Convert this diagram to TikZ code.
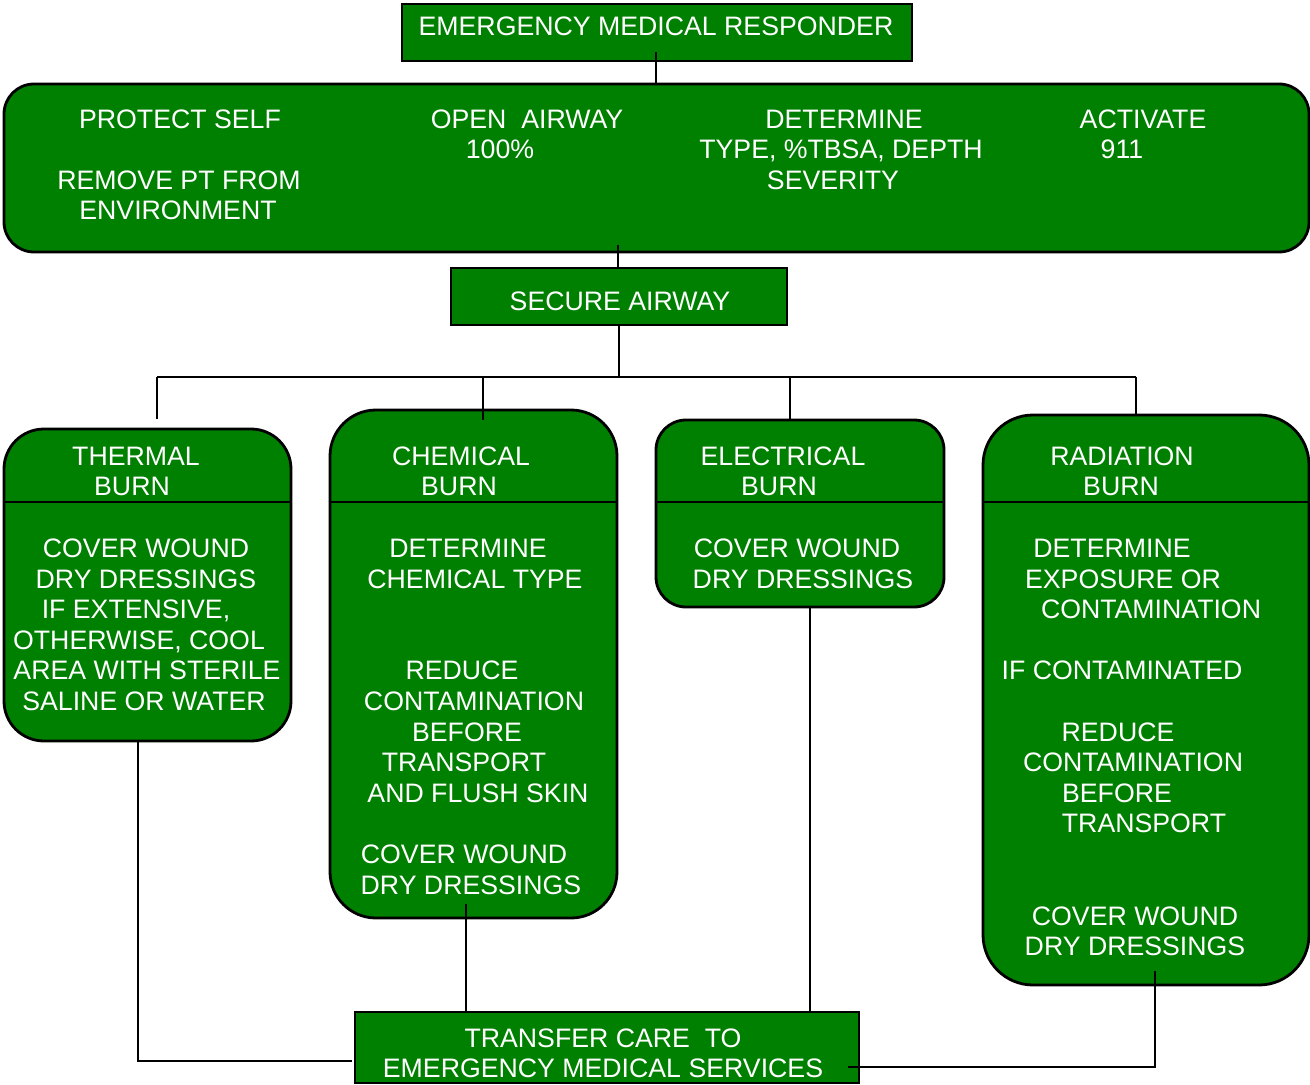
\documentclass[tikz,border=0pt]{standalone}
\usepackage{fontspec}
\setmainfont{Liberation Sans}
\usetikzlibrary{fit}
\definecolor{boxgreen}{RGB}{0,128,0}
\begin{document}
\begin{tikzpicture}[x=0.5pt,y=-0.5pt,
  box/.style={draw=black, fill=boxgreen, line width=1.4pt, inner sep=0pt},
  rbox/.style={box, rounded corners=#1},
  txt/.style={text=white, font=\fontsize{13.35}{15}\selectfont, inner sep=0pt, text height=9.55pt, text depth=0pt},
  conn/.style={draw=black, line width=1.2pt},
  divider/.style={draw=black, line width=1.4pt}]
\useasboundingbox (0,0) rectangle (1310,1085);

% boxes
\node[box, fit={(402,4) (912,61)}] (emr) {};
\node[rbox=15pt, fit={(4,84) (1309,252)}] (top) {};
\node[box, fit={(451,268) (787,325)}] (sa) {};
\node[rbox=20pt, fit={(4,429) (291,741)}] (therm) {};
\node[rbox=23pt, fit={(330,410) (617,918)}] (chem) {};
\node[rbox=15pt, fit={(656,420) (944,607)}] (elec) {};
\node[rbox=25pt, fit={(983,415) (1309,985)}] (rad) {};
\node[box, fit={(355,1012) (859,1083)}] (ems) {};

% header dividers
\draw[divider] (therm.west |- 0,502) -- (therm.east |- 0,502);
\draw[divider] (chem.west |- 0,502) -- (chem.east |- 0,502);
\draw[divider] (elec.west |- 0,502) -- (elec.east |- 0,502);
\draw[divider] (rad.west |- 0,502) -- (rad.east |- 0,502);

% texts
\node[txt] (t0) at (656,26) {EMERGENCY MEDICAL RESPONDER};
\node[txt] (t1) at (180,119) {PROTECT SELF};
\node[txt] (t2) at (179,180) {REMOVE PT FROM};
\node[txt] (t3) at (178,210) {ENVIRONMENT};
\node[txt] (t4) at (527,119) {OPEN~ AIRWAY};
\node[txt] (t5) at (500,149) {100\%};
\node[txt] (t6) at (844,119) {DETERMINE};
\node[txt] (t7) at (841,149) {TYPE, \%TBSA, DEPTH};
\node[txt] (t8) at (833,180) {SEVERITY};
\node[txt] (t9) at (1143,119) {ACTIVATE};
\node[txt] (t10) at (1122,149) {911};
\node[txt] (t11) at (620,301) {SECURE AIRWAY};

\node[txt] (th1) at (136,456) {THERMAL};
\node[txt] (th2) at (132,486) {BURN};
\node[txt] (th3) at (146,548) {COVER WOUND};
\node[txt] (th4) at (146,579) {DRY DRESSINGS};
\node[txt] (th5) at (136,609) {IF EXTENSIVE,};
\node[txt] (th6) at (139,640) {OTHERWISE, COOL};
\node[txt] (th7) at (147,670) {AREA WITH STERILE};
\node[txt] (th8) at (144,701) {SALINE OR WATER};

\node[txt] (ch1) at (461,456) {CHEMICAL};
\node[txt] (ch2) at (459,486) {BURN};
\node[txt] (ch3) at (468,548) {DETERMINE};
\node[txt] (ch4) at (475,579) {CHEMICAL TYPE};
\node[txt] (ch5) at (462,670) {REDUCE};
\node[txt] (ch6) at (474,701) {CONTAMINATION};
\node[txt] (ch7) at (467,732) {BEFORE};
\node[txt] (ch8) at (464,762) {TRANSPORT};
\node[txt] (ch9) at (478,793) {AND FLUSH SKIN};
\node[txt] (ch10) at (464,854) {COVER WOUND};
\node[txt] (ch11) at (471,885) {DRY DRESSINGS};

\node[txt] (el1) at (783,456) {ELECTRICAL};
\node[txt] (el2) at (779,486) {BURN};
\node[txt] (el3) at (797,548) {COVER WOUND};
\node[txt] (el4) at (803,579) {DRY DRESSINGS};

\node[txt] (ra1) at (1122,456) {RADIATION};
\node[txt] (ra2) at (1121,486) {BURN};
\node[txt] (ra3) at (1112,548) {DETERMINE};
\node[txt] (ra4) at (1123,579) {EXPOSURE OR};
\node[txt] (ra5) at (1151,609) {CONTAMINATION};
\node[txt] (ra6) at (1122,670) {IF CONTAMINATED};
\node[txt] (ra7) at (1118,732) {REDUCE};
\node[txt] (ra8) at (1133,762) {CONTAMINATION};
\node[txt] (ra9) at (1117,793) {BEFORE};
\node[txt] (ra10) at (1144,823) {TRANSPORT};
\node[txt] (ra11) at (1135,916) {COVER WOUND};
\node[txt] (ra12) at (1135,946) {DRY DRESSINGS};

\node[txt] (em1) at (603,1038) {TRANSFER CARE~ TO};
\node[txt] (em2) at (603,1068) {EMERGENCY MEDICAL SERVICES};

% connector coordinates
\coordinate (busL) at (157,377);
\coordinate (busR) at (1136,377);
\coordinate (thermEnd) at (157,419);
\coordinate (chemTop) at (483,420);
\coordinate (elecTop) at (790,420);
\coordinate (radTop) at (1136,415);
\coordinate (thermOut) at (138,741);
\coordinate (thermIn) at (352,1061);
\coordinate (chemOut) at (466,904);
\coordinate (chemIn) at (466,1013);
\coordinate (elecOut) at (810,607);
\coordinate (elecIn) at (810,1012);
\coordinate (radOut) at (1155,971);
\coordinate (radIn) at (848,1067);
\coordinate (emrStub) at (656,52);
\coordinate (topStub) at (618,245);

% connectors
\draw[conn] (emrStub) -- (emrStub |- top.north);
\draw[conn] (topStub) -- (topStub |- sa.north);
\draw[conn] (sa.south) -- (sa.south |- busL);
\draw[conn] (busL) -- (busR);
\draw[conn] (busL) -- (thermEnd);
\draw[conn] (chemTop |- busL) -- (chemTop);
\draw[conn] (elecTop |- busL) -- (elecTop);
\draw[conn] (busR) -- (radTop);
\draw[conn] (thermOut) |- (thermIn);
\draw[conn] (chemOut) -- (chemIn);
\draw[conn] (elecOut) -- (elecIn);
\draw[conn] (radOut) |- (radIn);
\end{tikzpicture}
\end{document}
